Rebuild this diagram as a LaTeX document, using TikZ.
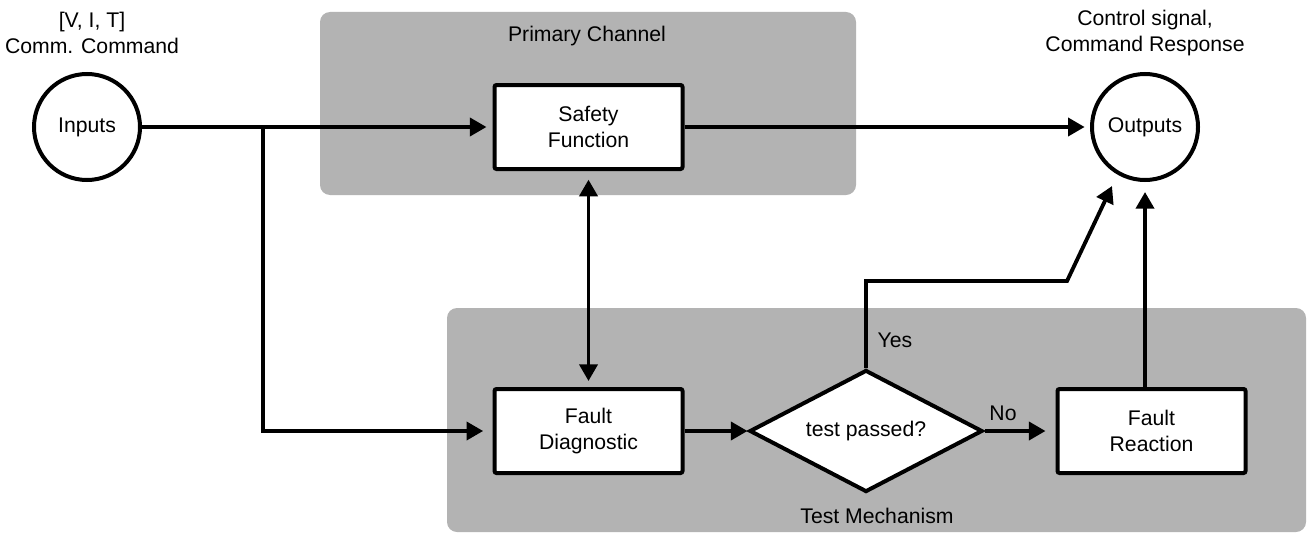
\documentclass[tikz,border=0pt]{standalone}
\usepackage{fontspec}
\setmainfont{Liberation Sans}
\usetikzlibrary{shapes.geometric,arrows.meta}
\definecolor{bgGray}{RGB}{179,179,179}
\begin{document}
\begin{tikzpicture}[x=0.75pt,y=-0.75pt,
  every node/.style={font=\fontsize{15.9}{19.5}\selectfont, inner sep=0pt},
  conn/.style={line width=2.9pt, -{Triangle[length=12.5pt,width=13.5pt]}},
  dconn/.style={line width=2.9pt, {Triangle[length=12.5pt,width=13.5pt]}-{Triangle[length=12.5pt,width=13.5pt]}},
  blk/.style={draw, line width=3pt, fill=white, rounded corners=1.5pt, minimum width=141pt, minimum height=63pt, align=center},
  circ/.style={draw, circle, line width=3pt, fill=white, minimum size=79.5pt},
  dia/.style={draw, diamond, aspect=1.9, line width=3pt, fill=white, minimum width=174.75pt, minimum height=91.5pt},
  area/.style={fill=bgGray, rounded corners=7.5pt}]

\useasboundingbox (0,0) rectangle (1308,535);
\fill[area] (320,12) rectangle (856,195);
\fill[area] (447,308) rectangle (1306,532);

% main nodes
\node[circ] (in) at (87,127) {Inputs};
\node[circ] (out) at (1145,127) {Outputs};
\node[blk] (sf) at (588.5,127) {Safety\\Function};
\node[blk] (fd) at (588.5,431) {Fault\\Diagnostic};
\node[dia] (tp) at (866,431) {test passed?};
\node[blk] (fr) at (1151.5,431) {Fault\\Reaction};

% labels
\node[align=center] (inlbl) at (92,33) {[V, I, T]\\Comm. Command};
\node[align=center] (outlbl) at (1145,33.5) {Control signal,\\Command Response};
\node (pclbl) at (587,36) {Primary Channel};
\node (tmlbl) at (877,516) {Test Mechanism};
\node (yes) at (895,340) {Yes};
\node (no) at (1003,413) {No};

% connectors
\coordinate (br) at (263,127);
\coordinate (bend) at (1067,281);
\coordinate (tipA) at (1112,186);

\draw[conn, shorten >=4.5pt] (in.east) -- (in.east -| sf.west);
\draw[conn, shorten >=7pt] (br) |- (fd.west);
\draw[conn, shorten >=4pt] (sf.east) -- (sf.east -| out.west);
\draw[dconn, shorten <=6.5pt, shorten >=4.5pt] (sf.south) -- (fd.north);
\draw[conn] (fd.east) -- (tp.west);
\draw[conn, shorten >=7.5pt] (tp.east) -- (tp.east -| fr.west);
\draw[conn] (tp.north) |- (bend) -- (tipA);
\draw[conn, shorten >=7.5pt] (fr.north -| out.south) -- (out.south);
\end{tikzpicture}
\end{document}
